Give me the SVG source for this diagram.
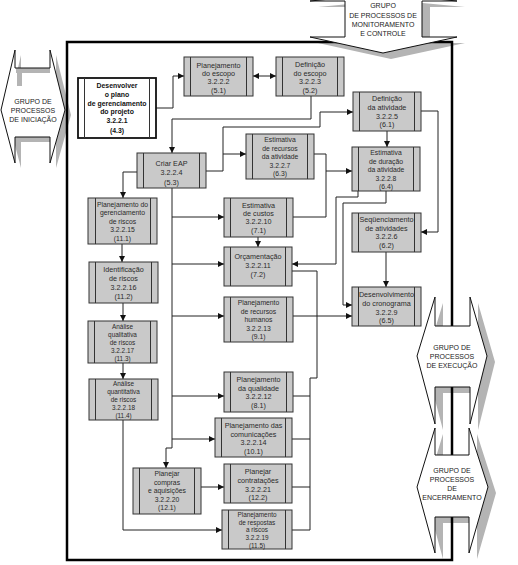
<svg xmlns="http://www.w3.org/2000/svg" width="518" height="565" viewBox="0 0 518 565">
<style>
.bx{fill:#c9c9c9;stroke:#333;stroke-width:1}
.in{fill:none;stroke:#333;stroke-width:1}
.t{font-family:"Liberation Sans",Arial,sans-serif;font-size:7.2px;fill:#2a2a2a;text-anchor:middle}
.t5{font-family:"Liberation Sans",Arial,sans-serif;font-size:6.8px;fill:#2a2a2a;text-anchor:middle}
.t6{font-family:"Liberation Sans",Arial,sans-serif;font-size:6.4px;fill:#2a2a2a;text-anchor:middle}
.tb{font-family:"Liberation Sans",Arial,sans-serif;font-size:6.9px;font-weight:bold;fill:#111;text-anchor:middle}
.g{font-family:"Liberation Sans",Arial,sans-serif;font-size:7px;fill:#222;text-anchor:middle}
.ln{fill:none;stroke:#222;stroke-width:1}
.sh{fill:#b4b4b4}
.wh{fill:#fff}
.ol{fill:none;stroke:#111;stroke-width:1}
</style>
<defs>
<marker id="ah" markerUnits="userSpaceOnUse" markerWidth="6" markerHeight="6" refX="6" refY="3" orient="auto-start-reverse">
<path d="M0,0 L6,3 L0,6 z" fill="#111"/>
</marker>
</defs>
<rect width="518" height="565" fill="#fff"/>

<g id="shadows">
<polygon class="sh" transform="translate(6,5)" points="15,50 15,68 50,68 50,50 65,110 50,163 50,137 15,137 15,163 1,110"/>
<polygon class="sh" transform="translate(8,6)" points="383,-6 310,1 345,1 345,37 310,37 383,53 457,37 422,37 422,1 457,1"/>
<polygon class="sh" transform="translate(8,6)" points="435,297 435,326 470,326 470,297 487,356 470,424 470,387 435,387 435,424 417,356"/>
<polygon class="sh" transform="translate(8,6)" points="435,428 435,455 469,455 469,428 488,487 469,553 469,517 435,517 435,553 417,487"/>
</g>

<rect id="frame" x="67" y="42" width="385" height="518" fill="none" stroke="#000" stroke-width="2.5"/>

<g id="grp-iniciacao">
<polygon class="wh" points="15,50 15,68 50,68 50,50 65,110 50,163 50,137 15,137 15,163 1,110"/>
<rect class="sh" x="16" y="68" width="34" height="5"/>
<rect class="sh" x="17" y="68" width="5" height="18"/>
<polygon class="ol" points="15,50 15,68 50,68 50,50 65,110 50,163 50,137 15,137 15,163 1,110"/>
<text class="g" x="33" y="104">GRUPO DE</text>
<text class="g" x="33" y="113">PROCESSOS</text>
<text class="g" x="33" y="122">DE INICIAÇÃO</text>
</g>
<g id="grp-monitoramento">
<polygon class="wh" points="383,-6 310,1 345,1 345,37 310,37 383,53 457,37 422,37 422,1 457,1"/>
<polygon class="ol" points="383,-6 310,1 345,1 345,37 310,37 383,53 457,37 422,37 422,1 457,1"/>
<text class="g" x="383" y="8">GRUPO</text>
<text class="g" x="383" y="17.5">DE PROCESSOS DE</text>
<text class="g" x="383" y="26.5">MONITORAMENTO</text>
<text class="g" x="383" y="35.5">E CONTROLE</text>
</g>
<g id="grp-execucao">
<polygon class="wh" points="435,297 435,326 470,326 470,297 487,356 470,424 470,387 435,387 435,424 417,356"/>
<polygon class="ol" points="435,297 435,326 470,326 470,297 487,356 470,424 470,387 435,387 435,424 417,356"/>
<text class="g" x="452" y="349.5">GRUPO DE</text>
<text class="g" x="452" y="358.5">PROCESSOS</text>
<text class="g" x="452" y="367.5">DE EXECUÇÃO</text>
</g>
<g id="grp-encerramento">
<polygon class="wh" points="435,428 435,455 469,455 469,428 488,487 469,553 469,517 435,517 435,553 417,487"/>
<polygon class="ol" points="435,428 435,455 469,455 469,428 488,487 469,553 469,517 435,517 435,553 417,487"/>
<text class="g" x="452" y="472.5">GRUPO DE</text>
<text class="g" x="452" y="481.5">PROCESSOS</text>
<text class="g" x="452" y="490.5">DE</text>
<text class="g" x="452" y="499.5">ENCERRAMENTO</text>
</g>

<g id="connectors">
<path class="ln" marker-end="url(#ah)" d="M156,108 H173 V76 H184"/>
<path class="ln" marker-start="url(#ah)" marker-end="url(#ah)" d="M253,76 H276"/>
<path class="ln" marker-end="url(#ah)" d="M311,96 V119 H172 V153"/>
<path class="ln" marker-end="url(#ah)" d="M206,171 H223 V127 H320 V112 H353"/>
<path class="ln" marker-end="url(#ah)" d="M223,154 H246"/>
<path class="ln" marker-end="url(#ah)" d="M421,111 H438 V232 H421"/>
<path class="ln" marker-end="url(#ah)" d="M387,131 V147"/>
<path class="ln" d="M293,217 H326 V154 H314"/>
<path class="ln" marker-end="url(#ah)" d="M326,171 H352"/>
<path class="ln" marker-end="url(#ah)" d="M358,191 V197 H336 V264 H292"/>
<path class="ln" marker-end="url(#ah)" d="M386,191 V203 H343 V305 H352"/>
<path class="ln" marker-end="url(#ah)" d="M386,252 V287"/>
<path class="ln" marker-end="url(#ah)" d="M293,316 H352"/>
<path class="ln" marker-end="url(#ah)" d="M137,172 H123 V198"/>
<path class="ln" marker-end="url(#ah)" d="M122,244 V262"/>
<path class="ln" marker-end="url(#ah)" d="M123,303 V321"/>
<path class="ln" marker-end="url(#ah)" d="M123,363 V379"/>
<path class="ln" marker-end="url(#ah)" d="M123,420 V530 H222"/>
<path class="ln" marker-end="url(#ah)" d="M172,188 V448 H166 V468"/>
<path class="ln" marker-end="url(#ah)" d="M172,217 H224"/>
<path class="ln" marker-end="url(#ah)" d="M172,264 H224"/>
<path class="ln" marker-end="url(#ah)" d="M172,316 H224"/>
<path class="ln" marker-end="url(#ah)" d="M172,396 H224"/>
<path class="ln" marker-end="url(#ah)" d="M172,439 H215"/>
<path class="ln" marker-end="url(#ah)" d="M201,487 H224"/>
<path class="ln" d="M292,530 H310 V378 H317 V271 H292"/>
<path class="ln" d="M293,396 H310 M292,439 H310 M292,487 H310"/>
<path class="ln" marker-end="url(#ah)" d="M258,237 V247"/>
</g>

<g id="n-3.2.2.1">
<rect x="78" y="78" width="78" height="60" fill="#fff" stroke="#111" stroke-width="1.8"/>
<path class="in" d="M84.5,78 V138 M149.5,78 V138"/>
<text class="tb" x="117" y="88">Desenvolver</text>
<text class="tb" x="117" y="97">o plano</text>
<text class="tb" x="117" y="105.5">de gerenciamento</text>
<text class="tb" x="117" y="114">do projeto</text>
<text class="tb" x="117" y="123">3.2.2.1</text>
<text class="tb" x="117" y="132.5">(4.3)</text>
</g>
<g id="n-3.2.2.2">
<rect class="bx" x="184" y="57" width="69" height="39"/>
<path class="in" d="M190.5,57 V96 M246.5,57 V96"/>
<text class="t" x="218.5" y="67.5">Planejamento</text>
<text class="t" x="218.5" y="75.5">do escopo</text>
<text class="t" x="218.5" y="84">3.2.2.2</text>
<text class="t" x="218.5" y="92.5">(5.1)</text>
</g>
<g id="n-3.2.2.3">
<rect class="bx" x="276" y="57" width="68" height="39"/>
<path class="in" d="M282.5,57 V96 M337.5,57 V96"/>
<text class="t" x="310" y="66.5">Definição</text>
<text class="t" x="310" y="75.5">do escopo</text>
<text class="t" x="310" y="84">3.2.2.3</text>
<text class="t" x="310" y="92.5">(5.2)</text>
</g>
<g id="n-3.2.2.5">
<rect class="bx" x="353" y="92" width="68" height="39"/>
<path class="in" d="M359.5,92 V131 M414.5,92 V131"/>
<text class="t" x="387" y="100.5">Definição</text>
<text class="t" x="387" y="109.5">da atividade</text>
<text class="t" x="387" y="118.5">3.2.2.5</text>
<text class="t" x="387" y="127">(6.1)</text>
</g>
<g id="n-3.2.2.8">
<rect class="bx" x="352" y="147" width="68" height="44"/>
<path class="in" d="M358.5,147 V191 M413.5,147 V191"/>
<text class="t5" x="386" y="155">Estimativa</text>
<text class="t5" x="386" y="163.5">de duração</text>
<text class="t5" x="386" y="172">da atividade</text>
<text class="t5" x="386" y="180.5">3.2.2.8</text>
<text class="t5" x="386" y="189">(6.4)</text>
</g>
<g id="n-3.2.2.7">
<rect class="bx" x="246" y="134" width="68" height="45"/>
<path class="in" d="M252.5,134 V179 M307.5,134 V179"/>
<text class="t5" x="280" y="142">Estimativa</text>
<text class="t5" x="280" y="150.5">de recursos</text>
<text class="t5" x="280" y="159">da atividade</text>
<text class="t5" x="280" y="167.5">3.2.2.7</text>
<text class="t5" x="280" y="176">(6.3)</text>
</g>
<g id="n-3.2.2.4">
<rect class="bx" x="137" y="153" width="69" height="35"/>
<path class="in" d="M143.5,153 V188 M199.5,153 V188"/>
<text class="t" x="171.5" y="165.5">Criar EAP</text>
<text class="t" x="171.5" y="174.5">3.2.2.4</text>
<text class="t" x="171.5" y="184.5">(5.3)</text>
</g>
<g id="n-3.2.2.15">
<rect class="bx" x="88" y="198" width="69" height="46"/>
<path class="in" d="M95.5,198 V244 M150.5,198 V244"/>
<text class="t5" x="122.5" y="206.5">Planejamento do</text>
<text class="t5" x="122.5" y="215">gerenciamento</text>
<text class="t5" x="122.5" y="223.5">de riscos</text>
<text class="t5" x="122.5" y="232">3.2.2.15</text>
<text class="t5" x="122.5" y="240.5">(11.1)</text>
</g>
<g id="n-3.2.2.16">
<rect class="bx" x="89" y="262" width="69" height="41"/>
<path class="in" d="M95.5,262 V303 M151.5,262 V303"/>
<text class="t" x="123.5" y="271.5">Identificação</text>
<text class="t" x="123.5" y="280.5">de riscos</text>
<text class="t" x="123.5" y="289.5">3.2.2.16</text>
<text class="t" x="123.5" y="298.5">(11.2)</text>
</g>
<g id="n-3.2.2.17">
<rect class="bx" x="88" y="321" width="69" height="42"/>
<path class="in" d="M94.5,321 V363 M150.5,321 V363"/>
<text class="t6" x="122.5" y="328.5">Análise</text>
<text class="t6" x="122.5" y="336.5">qualitativa</text>
<text class="t6" x="122.5" y="344.5">de riscos</text>
<text class="t6" x="122.5" y="352.5">3.2.2.17</text>
<text class="t6" x="122.5" y="360.5">(11.3)</text>
</g>
<g id="n-3.2.2.18">
<rect class="bx" x="89" y="379" width="69" height="41"/>
<path class="in" d="M95.5,379 V420 M151.5,379 V420"/>
<text class="t6" x="123.5" y="386">Análise</text>
<text class="t6" x="123.5" y="394">quantitativa</text>
<text class="t6" x="123.5" y="402">de riscos</text>
<text class="t6" x="123.5" y="410">3.2.2.18</text>
<text class="t6" x="123.5" y="418">(11.4)</text>
</g>
<g id="n-3.2.2.10">
<rect class="bx" x="224" y="198" width="69" height="39"/>
<path class="in" d="M230.5,198 V237 M286.5,198 V237"/>
<text class="t" x="258.5" y="207.5">Estimativa</text>
<text class="t" x="258.5" y="215.5">de custos</text>
<text class="t" x="258.5" y="223.5">3.2.2.10</text>
<text class="t" x="258.5" y="232.5">(7.1)</text>
</g>
<g id="n-3.2.2.11">
<rect class="bx" x="224" y="247" width="68" height="39"/>
<path class="in" d="M230.5,247 V286 M285.5,247 V286"/>
<text class="t" x="258" y="258.5">Orçamentação</text>
<text class="t" x="258" y="267.5">3.2.2.11</text>
<text class="t" x="258" y="276.5">(7.2)</text>
</g>
<g id="n-3.2.2.13">
<rect class="bx" x="224" y="297" width="69" height="45"/>
<path class="in" d="M230.5,297 V342 M286.5,297 V342"/>
<text class="t5" x="258.5" y="305">Planejamento</text>
<text class="t5" x="258.5" y="313.5">de recursos</text>
<text class="t5" x="258.5" y="322">humanos</text>
<text class="t5" x="258.5" y="330.5">3.2.2.13</text>
<text class="t5" x="258.5" y="339">(9.1)</text>
</g>
<g id="n-3.2.2.12">
<rect class="bx" x="224" y="372" width="69" height="40"/>
<path class="in" d="M230.5,372 V412 M286.5,372 V412"/>
<text class="t" x="258.5" y="381.5">Planejamento</text>
<text class="t" x="258.5" y="390.5">da qualidade</text>
<text class="t" x="258.5" y="398.5">3.2.2.12</text>
<text class="t" x="258.5" y="407.5">(8.1)</text>
</g>
<g id="n-3.2.2.14">
<rect class="bx" x="215" y="418" width="77" height="39"/>
<path class="in" d="M221.5,418 V457 M285.5,418 V457"/>
<text class="t" x="253.5" y="427.5">Planejamento das</text>
<text class="t" x="253.5" y="436.5">comunicações</text>
<text class="t" x="253.5" y="444.5">3.2.2.14</text>
<text class="t" x="253.5" y="454">(10.1)</text>
</g>
<g id="n-3.2.2.20">
<rect class="bx" x="133" y="468" width="68" height="46"/>
<path class="in" d="M139.5,468 V514 M194.5,468 V514"/>
<text class="t5" x="167" y="476">Planejar</text>
<text class="t5" x="167" y="484.5">compras</text>
<text class="t5" x="167" y="493">e aquisições</text>
<text class="t5" x="167" y="501.5">3.2.2.20</text>
<text class="t5" x="167" y="510">(12.1)</text>
</g>
<g id="n-3.2.2.21">
<rect class="bx" x="224" y="464" width="68" height="39"/>
<path class="in" d="M230.5,464 V503 M285.5,464 V503"/>
<text class="t" x="258" y="473.5">Planejar</text>
<text class="t" x="258" y="482.5">contratações</text>
<text class="t" x="258" y="491.5">3.2.2.21</text>
<text class="t" x="258" y="499.5">(12.2)</text>
</g>
<g id="n-3.2.2.19">
<rect class="bx" x="222" y="510" width="70" height="39"/>
<path class="in" d="M228.5,510 V549 M285.5,510 V549"/>
<text class="t6" x="257" y="517">Planejamento</text>
<text class="t6" x="257" y="524.7">de respostas</text>
<text class="t6" x="257" y="532.4">a riscos</text>
<text class="t6" x="257" y="540.1">3.2.2.19</text>
<text class="t6" x="257" y="547.8">(11.5)</text>
</g>
<g id="n-3.2.2.6">
<rect class="bx" x="352" y="213" width="69" height="39"/>
<path class="in" d="M358.5,213 V252 M414.5,213 V252"/>
<text class="t" x="386.5" y="221.5">Seqüenciamento</text>
<text class="t" x="386.5" y="230.5">de atividades</text>
<text class="t" x="386.5" y="238.5">3.2.2.6</text>
<text class="t" x="386.5" y="247.5">(6.2)</text>
</g>
<g id="n-3.2.2.9">
<rect class="bx" x="352" y="287" width="69" height="39"/>
<path class="in" d="M358.5,287 V326 M414.5,287 V326"/>
<text class="t" x="386.5" y="296.5">Desenvolvimento</text>
<text class="t" x="386.5" y="305.5">do cronograma</text>
<text class="t" x="386.5" y="314.5">3.2.2.9</text>
<text class="t" x="386.5" y="322.5">(6.5)</text>
</g>
</svg>
